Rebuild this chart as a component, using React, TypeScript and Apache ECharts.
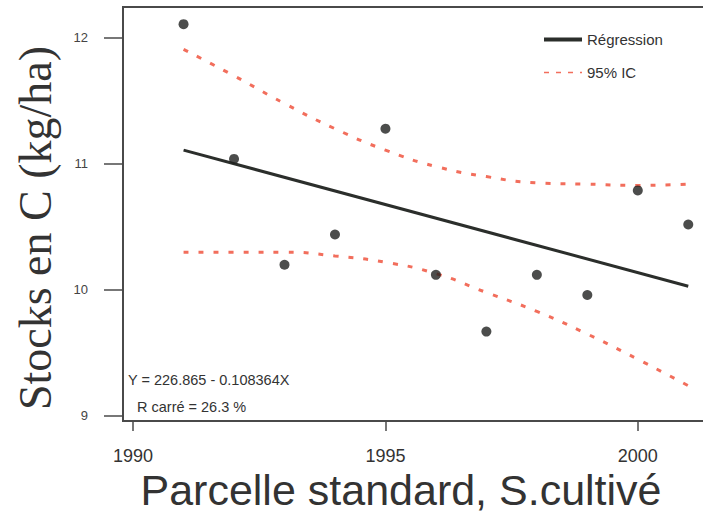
import React, { useEffect, useRef } from "react";
import * as echarts from "echarts";

const years = [1991, 1992, 1993, 1994, 1995, 1996, 1997, 1998, 1999, 2000, 2001];
const stocks = [12.11, 11.04, 10.2, 10.44, 11.28, 10.12, 9.67, 10.12, 9.96, 10.79, 10.52];
const regressionYears = [1991, 2001];
const regressionValues = [11.11, 10.03];
const ciUpper = [11.91, 11.7, 11.48, 11.28, 11.11, 10.98, 10.9, 10.85, 10.84, 10.83, 10.84];
const ciLower = [10.3, 10.3, 10.3, 10.27, 10.22, 10.13, 9.98, 9.83, 9.65, 9.45, 9.24];
const xTicks = [1990, 1995, 2000];
const yTicks = [9, 10, 11, 12];

const yTitle = "Stocks en C (kg/ha)";
const xTitle = "Parcelle standard, S.cultivé";
const equationText = "Y = 226.865 - 0.108364X";
const r2Text = "R carré = 26.3 %";

export default function App() {
  const ref = useRef<HTMLDivElement>(null);
  useEffect(() => {
    if (!ref.current) return;
    const chart = echarts.init(ref.current, undefined, { renderer: "svg" });
    const red = "#f26e5c";
    const dark = "#2b2e2b";
    chart.setOption({
      animation: false,
      backgroundColor: "#ffffff",
      grid: {
        left: 123,
        top: 7,
        right: 0,
        bottom: 99,
        show: true,
        borderColor: "#4a4a4a",
        borderWidth: 2,
      },
      xAxis: {
        type: "value",
        min: 1989.8,
        max: 2001.49,
        axisLine: { show: true, lineStyle: { color: "#4a4a4a", width: 2 } },
        axisTick: {
          show: true,
          customValues: xTicks,
          length: 10,
          lineStyle: { color: "#4a4a4a", width: 1.5 },
        },
        axisLabel: {
          customValues: xTicks,
          formatter: (v: number) => String(v),
          fontSize: 18,
          fontFamily: "Liberation Sans",
          color: "#333",
          margin: 26,
        },
        splitLine: { show: false },
      },
      yAxis: {
        type: "value",
        min: 8.96,
        max: 12.246,
        axisLine: { show: true, lineStyle: { color: "#4a4a4a", width: 2 } },
        axisTick: {
          show: true,
          customValues: yTicks,
          length: 19,
          lineStyle: { color: "#4a4a4a", width: 1.5 },
        },
        axisLabel: {
          customValues: yTicks,
          formatter: (v: number) => String(v),
          fontSize: 13,
          fontFamily: "Liberation Sans",
          color: "#444",
          margin: 35,
        },
        splitLine: { show: false },
      },
      legend: {
        orient: "vertical",
        left: 542,
        top: 32,
        padding: 0,
        itemWidth: 38,
        itemHeight: 14,
        itemGap: 18,
        textStyle: { fontSize: 15, fontFamily: "Liberation Sans", color: "#333" },
        data: [
          {
            name: "Régression",
            lineStyle: { width: 4 },
            itemStyle: { color: "rgba(0,0,0,0)", borderWidth: 0 },
          },
          {
            name: "95% IC",
            lineStyle: { width: 1.5, type: [5, 7] },
            itemStyle: { color: "rgba(0,0,0,0)", borderWidth: 0 },
          },
        ],
      },
      series: [
        {
          name: "Régression",
          type: "line",
          data: regressionYears.map((x, i) => [x, regressionValues[i]]),
          symbol: "none",
          lineStyle: { color: dark, width: 3 },
          itemStyle: { color: dark },
          z: 3,
        },
        {
          name: "95% IC",
          type: "line",
          smooth: true,
          data: years.map((x, i) => [x, ciUpper[i]]),
          symbol: "none",
          lineStyle: { color: red, width: 3, type: [5, 10] },
          itemStyle: { color: red },
          z: 2,
        },
        {
          name: "95% IC",
          type: "line",
          smooth: true,
          data: years.map((x, i) => [x, ciLower[i]]),
          symbol: "none",
          lineStyle: { color: red, width: 3, type: [5, 10] },
          itemStyle: { color: red },
          z: 2,
        },
        {
          name: "Observations",
          type: "scatter",
          data: years.map((x, i) => [x, stocks[i]]),
          symbol: "circle",
          symbolSize: 10,
          itemStyle: { color: "#1f211f" },
          z: 4,
        },
      ],
      graphic: [
        {
          type: "text",
          x: 35,
          y: 228,
          rotation: Math.PI / 2,
          style: {
            text: yTitle,
            font: '46px "Liberation Serif"',
            fill: "#333",
            align: "center",
            verticalAlign: "middle",
          },
        },
        {
          type: "text",
          x: 401,
          y: 490,
          style: {
            text: xTitle,
            font: '43px "Liberation Sans"',
            fill: "#333",
            align: "center",
            verticalAlign: "middle",
          },
        },
        {
          type: "text",
          x: 128,
          y: 380,
          style: {
            text: equationText,
            font: '14.5px "Liberation Sans"',
            fill: "#333",
            align: "left",
            verticalAlign: "middle",
          },
        },
        {
          type: "text",
          x: 137,
          y: 407,
          style: {
            text: r2Text,
            font: '14.5px "Liberation Sans"',
            fill: "#333",
            align: "left",
            verticalAlign: "middle",
          },
        },
      ],
    });
    return () => chart.dispose();
  }, []);
  return (
    <div
      style={{
        position: "absolute",
        left: 0,
        top: 0,
        width: 703,
        height: 520,
        overflow: "hidden",
      }}
    >
      <div ref={ref} style={{ width: 713, height: 520 }} />
    </div>
  );
}
